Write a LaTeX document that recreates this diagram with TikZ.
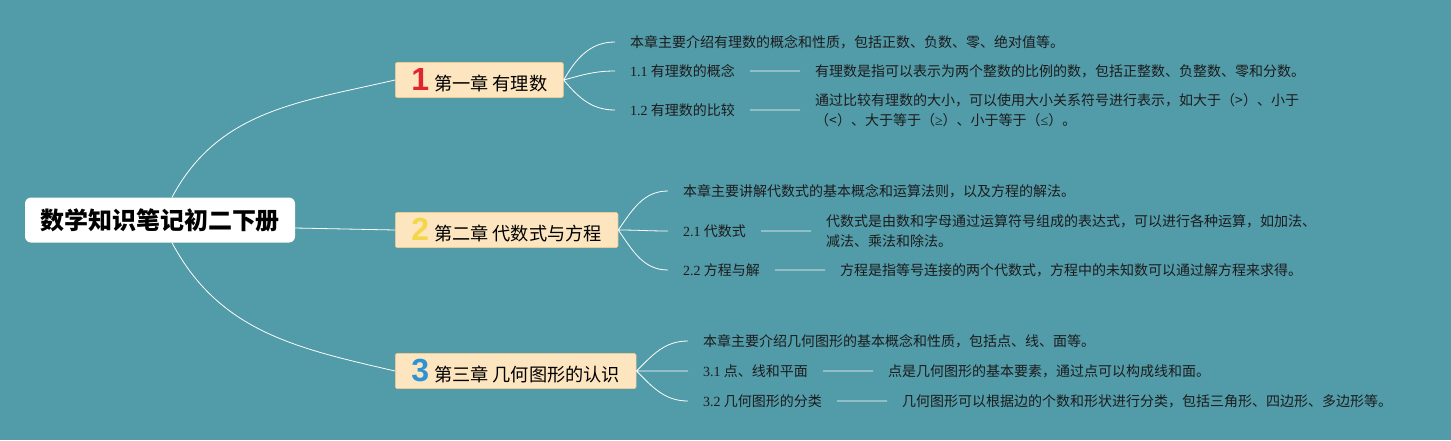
\documentclass[tikz,border=0pt]{standalone}
\usepackage{fontspec}
\setmainfont{Liberation Serif}
\newfontfamily\cjk{Noto Sans CJK SC}
\newfontfamily\badgefont{Liberation Sans}
\usepackage{tikz}
\usetikzlibrary{positioning}
\definecolor{teal500}{HTML}{529BA8}
\definecolor{peach100}{HTML}{FCE5BF}
\definecolor{peach300}{HTML}{E9CB98}
\definecolor{red600}{HTML}{E0262C}
\definecolor{yellow400}{HTML}{F3D748}
\definecolor{blue500}{HTML}{2C93D4}
\definecolor{gray900}{HTML}{1C1C1C}
\newcommand{\secno}[1]{{\rmfamily #1}}
\newcommand{\badge}[2]{{\badgefont\bfseries\fontsize{32}{32}\selectfont\color{#1}#2}\hspace{5pt}}
\tikzstyle{rootbox}=[rectangle, rounded corners=6pt, fill=white, minimum width=270pt, minimum height=45pt, font=\cjk\bfseries\fontsize{24}{24}\selectfont, text=black]
\tikzstyle{chapter}=[rectangle, fill=peach100, draw=peach300, line width=0.6pt, rounded corners=1.5pt, minimum height=35pt, inner xsep=16pt, inner ysep=0pt, anchor=west, font=\cjk\fontsize{18.2}{20}\selectfont, text=black]
\tikzstyle{topic}=[inner xsep=15pt, inner ysep=1pt, anchor=west, font=\cjk\fontsize{14}{20.5}\selectfont, text=gray900]
\tikzstyle{detail}=[topic, align=left]
\tikzstyle{branch}=[draw=white, line width=0.8pt]

\begin{document}
\begin{tikzpicture}[x=1pt, y=-1pt]
		\fill[teal500] (0,0) rectangle (1451,440);
		\node[rootbox](root) at (160,220) {数学知识笔记初二下册};
		\node[chapter](ch1) at (395,80) {\badge{red600}{1}第一章 有理数};
		\node[chapter](ch2) at (395,230) {\badge{yellow400}{2}第二章 代数式与方程};
		\node[chapter](ch3) at (395,371) {\badge{blue500}{3}第三章 几何图形的认识};
		% chapter 1
		\node[topic](ch1intro) at (615,42) {本章主要介绍有理数的概念和性质，包括正数、负数、零、绝对值等。};
		\node[topic](ch1a) at (615,71) {\secno{1.1} 有理数的概念};
		\node[topic](ch1b) at (615,110) {\secno{1.2} 有理数的比较};
		\node[detail, right=50pt of ch1a](ch1adet) {有理数是指可以表示为两个整数的比例的数，包括正整数、负整数、零和分数。};
		\node[detail, right=50pt of ch1b](ch1bdet) {通过比较有理数的大小，可以使用大小关系符号进行表示，如大于（>）、小于\\（<）、大于等于（{\rmfamily ≥}）、小于等于（{\rmfamily ≤}）。};
		% chapter 2
		\node[topic](ch2intro) at (668,191) {本章主要讲解代数式的基本概念和运算法则，以及方程的解法。};
		\node[topic](ch2a) at (668,231) {\secno{2.1} 代数式};
		\node[topic](ch2b) at (668,270) {\secno{2.2} 方程与解};
		\node[detail, right=50pt of ch2a](ch2adet) {代数式是由数和字母通过运算符号组成的表达式，可以进行各种运算，如加法、\\减法、乘法和除法。};
		\node[detail, right=50pt of ch2b](ch2bdet) {方程是指等号连接的两个代数式，方程中的未知数可以通过解方程来求得。};
		% chapter 3
		\node[topic](ch3intro) at (688,341) {本章主要介绍几何图形的基本概念和性质，包括点、线、面等。};
		\node[topic](ch3a) at (688,371) {\secno{3.1} 点、线和平面};
		\node[topic](ch3b) at (688,401) {\secno{3.2} 几何图形的分类};
		\node[detail, right=50pt of ch3a](ch3adet) {点是几何图形的基本要素，通过点可以构成线和面。};
		\node[detail, right=50pt of ch3b](ch3bdet) {几何图形可以根据边的个数和形状进行分类，包括三角形、四边形、多边形等。};
		\path[branch]
			([xshift=12pt]root.north) to[out=62, in=193] (ch1.west)
			([yshift=-8pt]root.east) -- (ch2.west)
			([xshift=12pt]root.south) to[out=-62, in=167] (ch3.west)
			(ch1.east) to[out=60, in=180] (ch1intro.west)
			(ch1.east) to[out=15, in=180] (ch1a.west)
			(ch1.east) to[out=-50, in=180] (ch1b.west)
			(ch2.east) to[out=55, in=180] (ch2intro.west)
			(ch2.east) to[out=0, in=180] (ch2a.west)
			(ch2.east) to[out=-55, in=180] (ch2b.west)
			(ch3.east) to[out=45, in=180] (ch3intro.west)
			(ch3.east) to[out=0, in=180] (ch3a.west)
			(ch3.east) to[out=-45, in=180] (ch3b.west)
			(ch1a) -- (ch1adet)
			(ch1b) -- (ch1bdet)
			(ch2a) -- (ch2adet)
			(ch2b) -- (ch2bdet)
			(ch3a) -- (ch3adet)
			(ch3b) -- (ch3bdet);
	\end{tikzpicture}
\end{document}
